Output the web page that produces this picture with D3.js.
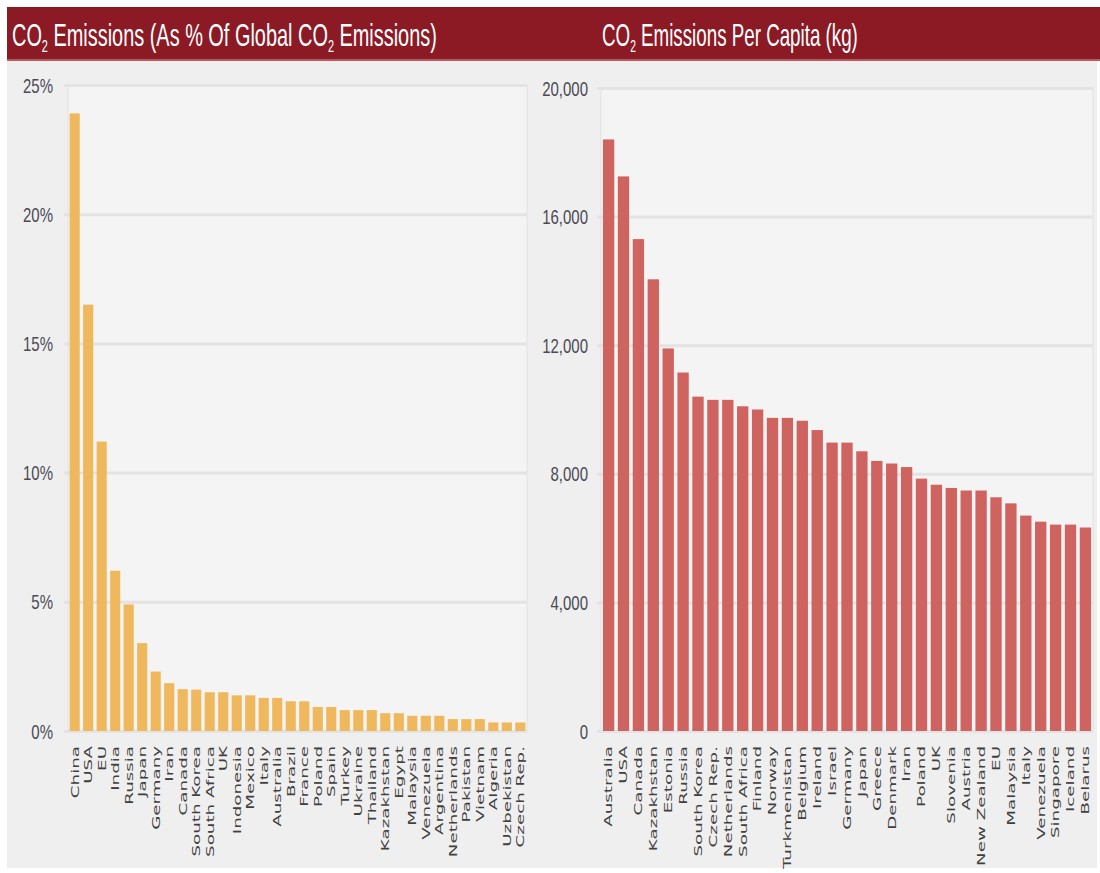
<!DOCTYPE html>
<html>
<head>
<meta charset="utf-8">
<script src="https://cdn.jsdelivr.net/npm/d3@7"></script>
<style>
  body { margin: 0; background: #fff; }
  .tick text.ylab { font-family: "Liberation Sans Narrow", "Liberation Sans", sans-serif; font-size: 20px; fill: #4a4a55; }
  .xlab { font-family: "DejaVu Sans", sans-serif; font-size: 11px; fill: #3f3f3f; }
  .title { font-family: "Liberation Sans Narrow", "Liberation Sans", sans-serif; font-size: 31px; fill: #fff; }
</style>
</head>
<body>
<script>
// left chart: share of global CO2 emissions (%)
const shareCountries = ["China","USA","EU","India","Russia","Japan","Germany","Iran","Canada","South Korea",
  "South Africa","UK","Indonesia","Mexico","Italy","Australia","Brazil","France","Poland","Spain",
  "Turkey","Ukraine","Thailand","Kazakhstan","Egypt","Malaysia","Venezuela","Argentina","Netherlands",
  "Pakistan","Vietnam","Algeria","Uzbekistan","Czech Rep."];
const shareValues = [23.9,16.5,11.2,6.2,4.9,3.4,2.3,1.85,1.62,1.6,
  1.5,1.5,1.38,1.38,1.28,1.28,1.15,1.15,0.93,0.93,
  0.81,0.81,0.81,0.69,0.69,0.59,0.59,0.59,0.46,
  0.46,0.46,0.33,0.33,0.33];
const shareTicks = [0,5,10,15,20,25];

// right chart: emissions per capita (kg)
const capitaCountries = ["Australia","USA","Canada","Kazakhstan","Estonia","Russia","South Korea","Czech Rep.",
  "Netherlands","South Africa","Finland","Norway","Turkmenistan","Belgium","Ireland","Israel","Germany",
  "Japan","Greece","Denmark","Iran","Poland","UK","Slovenia","Austria","New Zealand","EU","Malaysia",
  "Italy","Venezuela","Singapore","Iceland","Belarus"];
const capitaValues = [18400,17250,15300,14050,11900,11150,10400,10300,
  10300,10100,10000,9740,9740,9650,9360,8970,8970,
  8700,8400,8320,8210,7850,7660,7560,7480,7480,7270,7080,
  6700,6510,6420,6420,6330];
const capitaTicks = [0,4000,8000,12000,16000,20000];

const W = 1100, H = 873;
const svg = d3.select("body").append("svg")
  .attr("width", W).attr("height", H);

// panel background + header band
svg.append("rect").attr("x", 7).attr("y", 60).attr("width", 1090).attr("height", 808).attr("fill", "#efefef");
svg.append("rect").attr("x", 7).attr("y", 7).attr("width", 1093).attr("height", 53).attr("fill", "#8b1a25");
svg.append("rect").attr("x", 7).attr("y", 59).attr("width", 1093).attr("height", 2).attr("fill", "#b55c63");

function title(x, parts, targetW) {
  const t = svg.append("text").attr("class", "title").attr("x", 0).attr("y", 0);
  parts.forEach(p => {
    if (p.sub) {
      t.append("tspan").attr("font-size", "17px").attr("dy", 6).text(p.s);
    } else {
      t.append("tspan").attr("dy", p.back ? -6 : 0).text(p.s);
    }
  });
  const w = t.node().getComputedTextLength();
  t.attr("transform", "translate(" + x + ",46) scale(" + (targetW / w) + ",1)");
}
title(12, [{s:"CO"},{s:"2",sub:true},{s:" Emissions (As % Of Global CO",back:true},{s:"2",sub:true},{s:" Emissions)",back:true}], 425);
title(602, [{s:"CO"},{s:"2",sub:true},{s:" Emissions Per Capita (kg)",back:true}], 256);

function chart(opt) {
  const {x0, x1, y0, y1, cats, vals, ticks, max, color, fmt, labOff, padOuter, padInner} = opt;

  const x = d3.scaleBand().domain(cats).range([x0, x1])
    .paddingInner(padInner).paddingOuter(padOuter);
  const y = d3.scaleLinear().domain([0, max]).range([y1, y0]);

  // plot area
  svg.append("rect").attr("x", x0).attr("y", y0).attr("width", x1 - x0).attr("height", y1 - y0)
    .attr("fill", "#f4f4f4").attr("stroke", "#e2e2e2");

  const yAxis = d3.axisLeft(y).tickValues(ticks).tickSize(-(x1 - x0)).tickFormat(fmt);
  const gY = svg.append("g").attr("transform", "translate(" + x0 + ",0)").call(yAxis);
  gY.select(".domain").remove();
  gY.selectAll(".tick line").attr("x1", -4).attr("stroke", "#e3e3e3").attr("stroke-width", 3);
  gY.selectAll(".tick text").attr("class", "ylab")
    .attr("x", labOff / 0.75).attr("dy", "0.35em")
    .attr("transform", "scale(0.75,1)");

  svg.append("g").selectAll("rect").data(cats).join("rect")
    .attr("x", d => x(d))
    .attr("width", x.bandwidth())
    .attr("y", (d, i) => y(vals[i]))
    .attr("height", (d, i) => y1 - y(vals[i]))
    .attr("fill", color);

  svg.append("g").selectAll("text").data(cats).join("text")
    .attr("class", "xlab")
    .attr("text-anchor", "end")
    .attr("dy", "0.35em")
    .attr("transform", d => "translate(" + (x(d) + x.bandwidth() / 2) + "," + (y1 + 15) + ") rotate(-90) scale(1.66,1)")
    .text(d => d);
}

chart({x0: 68, x1: 527, y0: 85, y1: 731, cats: shareCountries, vals: shareValues, ticks: shareTicks,
  max: 25, color: "#f0b85c", fmt: d => d + "%", labOff: -15, padOuter: 0.12, padInner: 0.25});

chart({x0: 601, x1: 1093, y0: 88, y1: 731, cats: capitaCountries, vals: capitaValues, ticks: capitaTicks,
  max: 20000, color: "#cf6360", fmt: d3.format(","), labOff: -13, padOuter: 0.13, padInner: 0.24});
</script>
</body>
</html>
